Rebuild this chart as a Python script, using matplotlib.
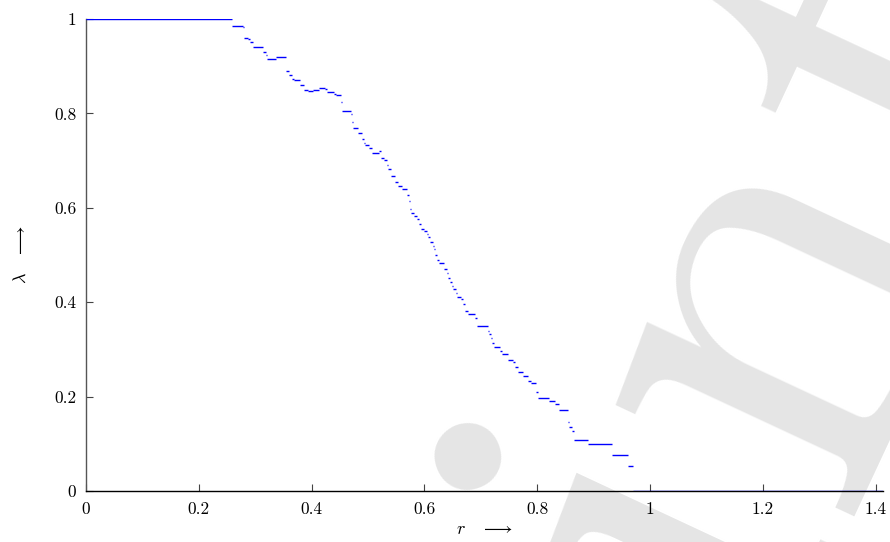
import matplotlib
matplotlib.use("Agg")
import matplotlib.pyplot as plt
import numpy as np

plt.rcParams["mathtext.fontset"] = "cm"
plt.rcParams["font.family"] = ["cmr10", "DejaVu Serif"]
plt.rcParams["axes.unicode_minus"] = False

# Step function lambda(r): each level holds from r_start[i] to r_start[i+1]
r_start = [
    0.000, 0.258, 0.278, 0.280, 0.287, 0.291, 0.296, 0.314, 0.319, 0.321,
    0.337, 0.355, 0.360, 0.365, 0.369, 0.379, 0.387, 0.394, 0.402, 0.413,
    0.424, 0.427, 0.440, 0.443, 0.452, 0.454, 0.470, 0.471, 0.473, 0.482,
    0.489, 0.493, 0.495, 0.502, 0.507, 0.520, 0.523, 0.528, 0.534, 0.535,
    0.541, 0.548, 0.553, 0.560, 0.569, 0.573, 0.574, 0.576, 0.582, 0.586,
    0.590, 0.594, 0.599, 0.605, 0.606, 0.610, 0.615, 0.617, 0.618, 0.622,
    0.626, 0.635, 0.640, 0.642, 0.645, 0.649, 0.651, 0.656, 0.658, 0.665,
    0.668, 0.672, 0.677, 0.690, 0.693, 0.713, 0.714, 0.718, 0.719, 0.723,
    0.734, 0.738, 0.748, 0.757, 0.761, 0.766, 0.775, 0.784, 0.789, 0.797,
    0.798, 0.801, 0.821, 0.832, 0.839, 0.855, 0.856, 0.862, 0.865, 0.890,
    0.933, 0.961, 0.970,
]
r_end_last = 1.413
lam = [
    1.000, 0.986, 0.982, 0.960, 0.957, 0.951, 0.941, 0.931, 0.924, 0.916,
    0.919, 0.890, 0.881, 0.873, 0.871, 0.861, 0.850, 0.847, 0.850, 0.854,
    0.852, 0.846, 0.842, 0.839, 0.825, 0.806, 0.799, 0.782, 0.769, 0.759,
    0.746, 0.737, 0.734, 0.727, 0.716, 0.720, 0.706, 0.702, 0.691, 0.682,
    0.667, 0.655, 0.646, 0.639, 0.627, 0.614, 0.597, 0.588, 0.583, 0.577,
    0.566, 0.555, 0.551, 0.545, 0.539, 0.528, 0.520, 0.513, 0.500, 0.490,
    0.484, 0.470, 0.462, 0.452, 0.443, 0.435, 0.428, 0.419, 0.411, 0.406,
    0.396, 0.381, 0.374, 0.366, 0.350, 0.340, 0.333, 0.324, 0.314, 0.306,
    0.297, 0.290, 0.278, 0.273, 0.262, 0.253, 0.244, 0.234, 0.228, 0.212,
    0.210, 0.198, 0.191, 0.184, 0.171, 0.146, 0.136, 0.127, 0.107, 0.100,
    0.076, 0.053, 0.000,
]

x_ticks = [0, 0.2, 0.4, 0.6, 0.8, 1.0, 1.2, 1.4]
x_tick_labels = ["0", "0.2", "0.4", "0.6", "0.8", "1", "1.2", "1.4"]
y_ticks = [0, 0.2, 0.4, 0.6, 0.8, 1.0]
y_tick_labels = ["0", "0.2", "0.4", "0.6", "0.8", "1"]

fig = plt.figure(figsize=(8.9, 5.42), dpi=100)
ax = fig.add_axes([86 / 890, 51 / 542, (883 - 86) / 890, (491 - 19) / 542])
ax.set_facecolor("none")

# background watermark
fig.text(128.7 / 890, 1 - 2030.4 / 542, "Preprint", fontsize=440, family="cmr10",
         color="#e5e5e5", rotation=65, rotation_mode="anchor",
         ha="left", va="baseline", zorder=-5)

r_end = r_start[1:] + [r_end_last]
ax.hlines(lam, r_start, r_end, colors="#0000ff", linewidth=1.0, zorder=3)

ax.set_xlim(0, r_end_last)
ax.set_ylim(0, 1)
ax.set_xticks(x_ticks)
ax.set_xticklabels(x_tick_labels)
ax.set_yticks(y_ticks)
ax.set_yticklabels(y_tick_labels)

for s in ("top", "right"):
    ax.spines[s].set_visible(False)
ax.spines["left"].set_color("#555555")
ax.spines["left"].set_linewidth(1.0)
ax.spines["bottom"].set_color("black")
ax.spines["bottom"].set_linewidth(1.0)

ax.tick_params(axis="both", direction="in", length=5, width=0.8,
               color="#444444", labelsize=12.5)
ax.tick_params(axis="x", pad=8)
ax.tick_params(axis="y", pad=7)

ax.set_xlabel(r"$r\quad\longrightarrow$", fontsize=13, labelpad=3)
ax.set_ylabel(r"$\lambda\quad\longrightarrow$", fontsize=13, labelpad=18)

fig.savefig("out.png", dpi=100)
